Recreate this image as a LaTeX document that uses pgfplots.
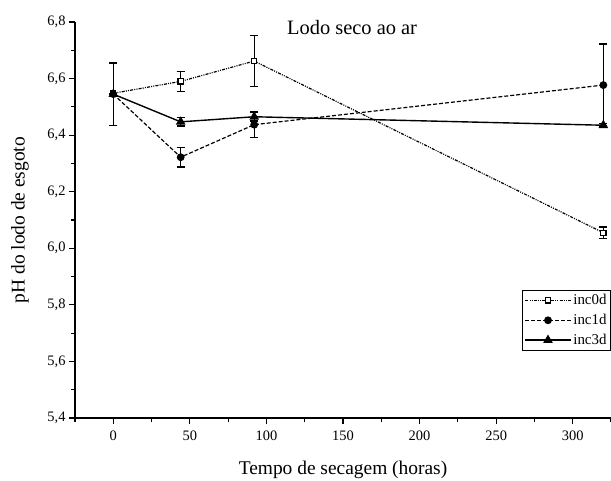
\documentclass[border=0pt]{standalone}
\usepackage{fontspec}
\setmainfont{Liberation Serif}
\usepackage{pgfplots}
\pgfplotsset{compat=1.18}
\begin{document}
\begin{tikzpicture}
\begin{axis}[
  name=ax,
  scale only axis,
  width=536bp, height=396bp,
  xmin=-25, xmax=325, ymin=5.4, ymax=6.8,
  axis x line=bottom, axis y line=left,
  axis line style={-, line width=1.3pt},
  tick style={line width=1.1pt, black},
  tick align=outside,
  major tick length=6bp, minor tick length=4bp,
  xtick={0,50,...,300}, minor xtick={-25,25,75,...,325},
  ytick={5.4,5.6,...,6.8}, minor ytick={5.5,5.7,...,6.7},
  /pgf/number format/assume math mode=true,
  /pgf/number format/use comma,
  yticklabel style={/pgf/number format/fixed, /pgf/number format/fixed zerofill, /pgf/number format/precision=1},
  ticklabel style={font=\fontsize{14.5}{16}\selectfont},
  xticklabel style={yshift=-3bp},
  xlabel={Tempo de secagem (horas)},
  ylabel={pH do lodo de esgoto},
  label style={font=\fontsize{19.5}{21}\selectfont},
  xlabel style={at={(axis description cs:0.5,0)}, anchor=center, yshift=-52bp},
  ylabel style={at={(axis description cs:0,0.5)}, anchor=center, yshift=55bp},
  legend style={at={(axis description cs:1,0.323)}, anchor=north east, draw=black, line width=0.9pt,
    font=\fontsize{15}{16}\selectfont, inner sep=2pt, row sep=4pt, cells={anchor=west}},
  legend cell align=left,
  legend image code/.code={\draw[mark repeat=2, mark phase=2] plot coordinates {(0cm,0cm) (0.8cm,0cm) (1.6cm,0cm)};},
  clip=false,
]
\addplot+[black, line width=1.2pt, dash pattern=on 3pt off 1.2pt on 1pt off 1.2pt on 1pt off 1.2pt,
  mark=square*, mark size=2.6pt, mark options={solid, fill=white, draw=black, line width=1.2pt},
  error bars/.cd, y dir=both, y explicit, error bar style={solid, line width=1.3pt}, error mark options={rotate=90, mark size=4bp, line width=1.3pt}]
coordinates {(0,6.548) +- (0,0) (44,6.59) +- (0,0.035) (92,6.662) +- (0,0.09) (320,6.055) +- (0,0.02)};
\addlegendentry{inc0d}
\addplot+[black, line width=1.2pt, dash pattern=on 4pt off 2pt,
  mark=*, mark size=3.3pt, mark options={solid, fill=black},
  error bars/.cd, y dir=both, y explicit, error bar style={solid, line width=1.3pt}, error mark options={rotate=90, mark size=4bp, line width=1.3pt}]
coordinates {(0,6.545) +- (0,0) (44,6.322) +- (0,0.035) (92,6.437) +- (0,0.045) (320,6.577) +- (0,0.145)};
\addlegendentry{inc1d}
\addplot+[black, line width=1.4pt, solid,
  mark=triangle*, mark size=4.2pt, mark options={solid, fill=black},
  error bars/.cd, y dir=both, y explicit, error bar style={solid, line width=1.3pt}, error mark options={rotate=90, mark size=4bp, line width=1.3pt}]
coordinates {(0,6.545) +- (0,0.11) (44,6.447) +- (0,0.015) (92,6.465) +- (0,0.015) (320,6.435) +- (0,0.005)};
\addlegendentry{inc3d}
\node[font=\fontsize{20.5}{22}\selectfont, anchor=center] at (axis description cs:0.517,0.985) {Lodo seco ao ar};
\end{axis}
\pgfresetboundingbox
\path ([shift={(-75bp,-63bp)}]ax.south west) rectangle ([shift={(0bp,22bp)}]ax.north east);
\end{tikzpicture}
\end{document}
